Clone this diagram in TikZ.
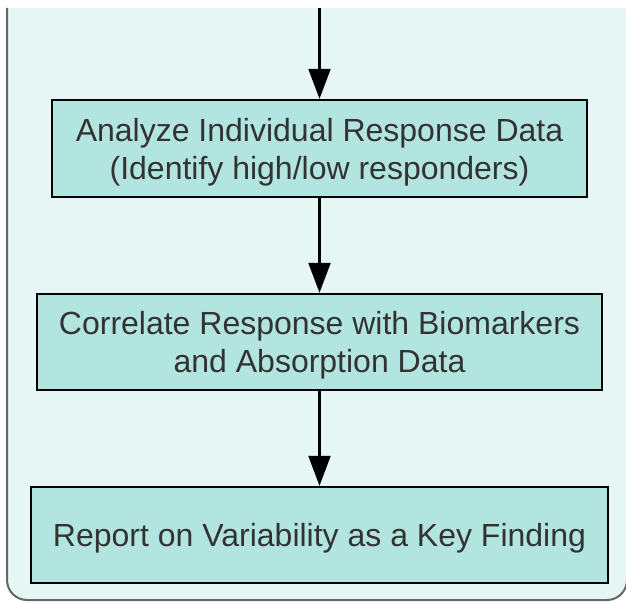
\documentclass[tikz,border=0pt]{standalone}
\usepackage{fontspec}
\setmainfont{Liberation Sans}
\usetikzlibrary{arrows.meta}
\definecolor{bgteal}{HTML}{E6F6F4}
\definecolor{boxteal}{HTML}{B2E5DF}
\definecolor{txt}{HTML}{333333}
\definecolor{frame}{HTML}{666666}
\tikzset{
  stepbox/.style={draw=black, line width=2.4pt, fill=boxteal, text=txt, align=center,
    font=\fontsize{32}{38}\selectfont, inner sep=0pt, text depth=0pt},
  flow/.style={draw=black, line width=2.2pt, -{Triangle[length=30pt,width=22pt]}}
}
\begin{document}
\begin{tikzpicture}[x=1pt,y=1pt]
\useasboundingbox (0,0) rectangle (626,-602);
\begin{scope}
\clip (0,0) rectangle (626,-602);
\fill[bgteal] (7,-8) -- (7,-580) arc[start angle=180,end angle=270,radius=20] -- (607,-600) arc[start angle=270,end angle=360,radius=20] -- (627,-8) -- cycle;
\draw[frame, line width=2pt] (7,-8) -- (7,-580) arc[start angle=180,end angle=270,radius=20] -- (607,-600) arc[start angle=270,end angle=360,radius=20] -- (627,-8);
\end{scope}
\node[stepbox, minimum width=535pt, minimum height=97pt] (b1) at (319.5,-148.5) {Analyze Individual Response Data\\(Identify high/low responders)};
\node[stepbox, minimum width=565pt, minimum height=96pt] (b2) at (319.5,-342) {Correlate Response with Biomarkers\\and Absorption Data};
\node[stepbox, minimum width=577pt, minimum height=96pt] (b3) at (319.5,-535) {Report on Variability as a Key Finding};
\coordinate (top) at (319.5,-8);
\draw[flow] (top) -- (b1.north);
\draw[flow] (b1.south) -- (b2.north);
\draw[flow] (b2.south) -- (b3.north);
\end{tikzpicture}
\end{document}
